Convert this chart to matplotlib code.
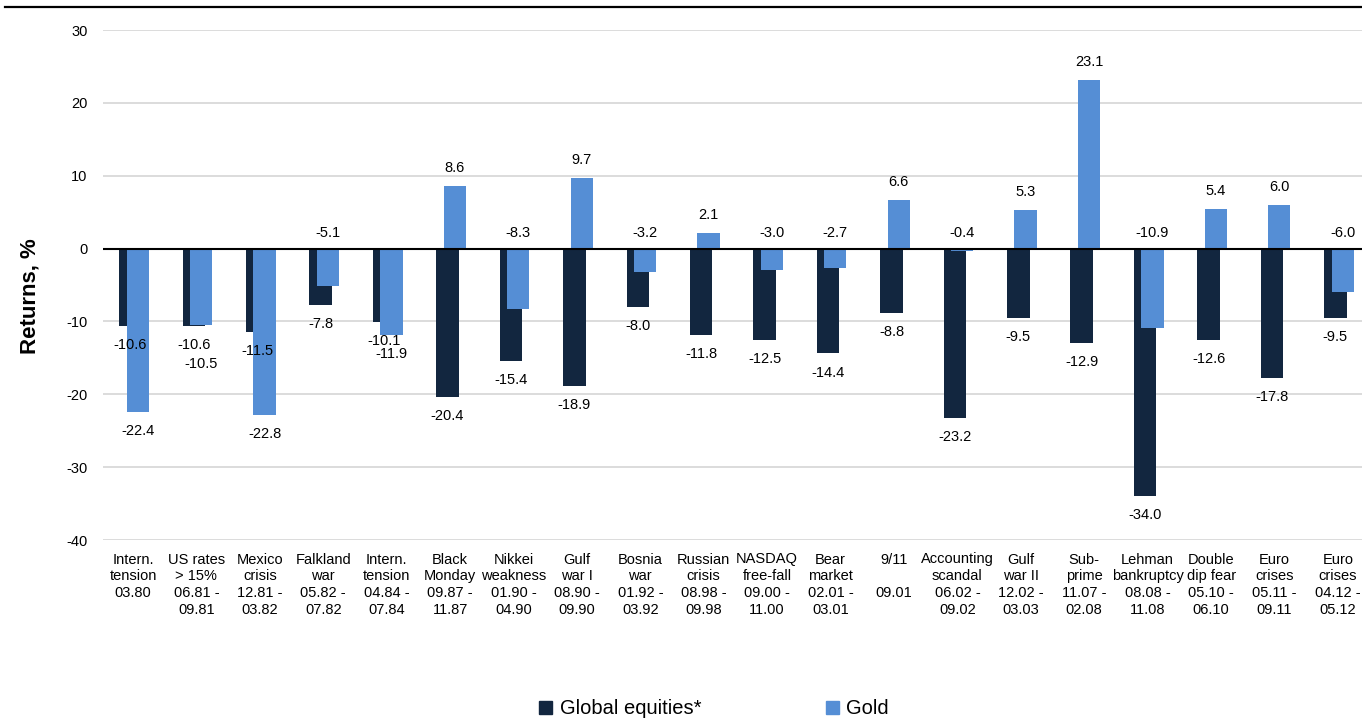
import numpy as np
import matplotlib
matplotlib.use('Agg')
import matplotlib.pyplot as plt
from matplotlib.lines import Line2D
from matplotlib.patches import Patch

plt.rcParams['font.family'] = ['Liberation Sans', 'DejaVu Sans']
plt.rcParams['axes.unicode_minus'] = False

events = ['Intern.\ntension\n03.80', 'US rates\n> 15%\n06.81 -\n09.81', 'Mexico\ncrisis\n12.81 -\n03.82',
          'Falkland\nwar\n05.82 -\n07.82', 'Intern.\ntension\n04.84 -\n07.84', 'Black\nMonday\n09.87 -\n11.87',
          'Nikkei\nweakness\n01.90 -\n04.90', 'Gulf\nwar I\n08.90 -\n09.90', 'Bosnia\nwar\n01.92 -\n03.92',
          'Russian\ncrisis\n08.98 -\n09.98', 'NASDAQ\nfree-fall\n09.00 -\n11.00', 'Bear\nmarket\n02.01 -\n03.01',
          '9/11\n\n09.01', 'Accounting\nscandal\n06.02 -\n09.02', 'Gulf\nwar II\n12.02 -\n03.03',
          'Sub-\nprime\n11.07 -\n02.08', 'Lehman\nbankruptcy\n08.08 -\n11.08', 'Double\ndip fear\n05.10 -\n06.10',
          'Euro\ncrises\n05.11 -\n09.11', 'Euro\ncrises\n04.12 -\n05.12']
equities = [-10.6, -10.6, -11.5, -7.8, -10.1, -20.4, -15.4, -18.9, -8.0, -11.8,
            -12.5, -14.4, -8.8, -23.2, -9.5, -12.9, -34.0, -12.6, -17.8, -9.5]
gold = [-22.4, -10.5, -22.8, -5.1, -11.9, 8.6, -8.3, 9.7, -3.2, 2.1,
        -3.0, -2.7, 6.6, -0.4, 5.3, 23.1, -10.9, 5.4, 6.0, -6.0]
series_names = ['Global equities*', 'Gold']
yticks = [-40, -30, -20, -10, 0, 10, 20, 30]

# gold labels that sit just above the zero line instead of at the bar end
gold_label_at_zero = [3, 6, 8, 10, 11, 13, 16, 19]
# one label pushed further down so it clears its neighbour
gold_label_nudge = {1: -14}

dark = '#12263F'
blue = '#558ED5'
fs = 10.5

fig = plt.figure(figsize=(13.62, 7.2), dpi=100)
ax = fig.add_axes([103 / 1362, 1 - 540 / 720, (1362 - 103) / 1362, 510 / 720])

x = np.arange(len(events))
ax.bar(x - 0.04, equities, width=0.355, color=dark, zorder=2)
ax.bar(x + 0.075, gold, width=0.35, color=blue, zorder=3)

for i in range(len(events)):
    ax.annotate(f'{equities[i]:.1f}', (x[i] - 0.04, equities[i]), textcoords='offset points',
                xytext=(0, -13.7), ha='center', va='center', fontsize=fs)
    if gold[i] >= 0:
        ax.annotate(f'{gold[i]:.1f}', (x[i] + 0.075, gold[i]), textcoords='offset points',
                    xytext=(0, 13), ha='center', va='center', fontsize=fs)
    elif i in gold_label_at_zero:
        ax.annotate(f'{gold[i]:.1f}', (x[i] + 0.075, 0), textcoords='offset points',
                    xytext=(0, 11.5), ha='center', va='center', fontsize=fs)
    else:
        ax.annotate(f'{gold[i]:.1f}', (x[i] + 0.075, gold[i]), textcoords='offset points',
                    xytext=(0, -13.7 + gold_label_nudge.get(i, 0)), ha='center', va='center',
                    fontsize=fs)

ax.set_xlim(-0.473, 19.38)
ax.set_ylim(-40, 30)
ax.set_yticks(yticks)
ax.set_xticks(x)
ax.set_xticklabels(events, fontsize=fs, linespacing=1.25)
ax.tick_params(axis='both', length=0, labelsize=fs)
ax.tick_params(axis='x', pad=9)
ax.tick_params(axis='y', pad=11)
for s in ax.spines.values():
    s.set_visible(False)
ax.grid(axis='y', color='#d9d9d9', lw=1.3, zorder=0)
ax.set_axisbelow(True)
ax.axhline(0, color='black', lw=1.5, zorder=4)

fig.text(30 / 1362, 1 - 296 / 720, 'Returns, %', rotation=90, fontsize=16,
         fontweight='bold', ha='center', va='center')

handles = [Patch(color=dark), Patch(color=blue)]
fig.legend(handles, series_names, loc='center', bbox_to_anchor=(714 / 1362, 1 - 709 / 720),
           ncol=2, frameon=False, fontsize=14.5, handlelength=0.65, handleheight=0.65,
           handletextpad=0.35, columnspacing=6.2, borderpad=0)

fig.add_artist(Line2D([5 / 1362, 1], [1 - 7 / 720, 1 - 7 / 720], transform=fig.transFigure,
                      color='black', lw=1.6))

fig.savefig('out.png', dpi=100)
